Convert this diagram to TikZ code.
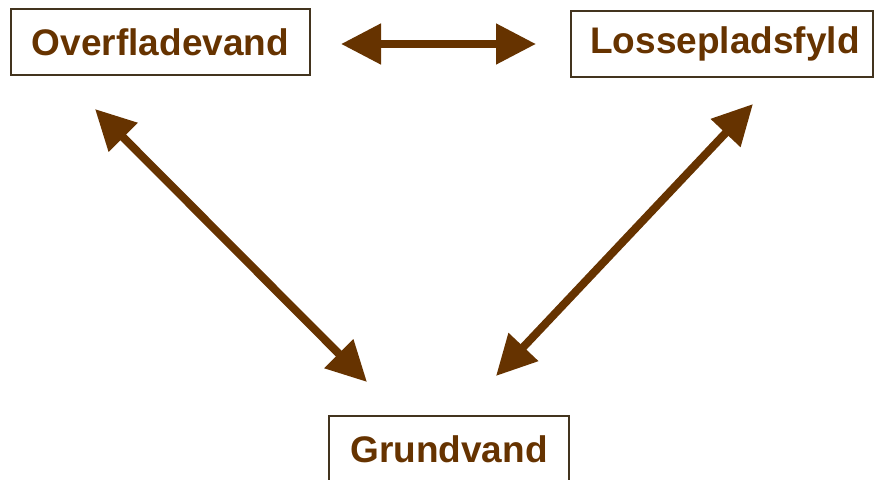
\documentclass[tikz,border=0pt]{standalone}
\usepackage{fontspec}
\setmainfont{Liberation Sans}
\usetikzlibrary{arrows.meta}
\definecolor{brn}{HTML}{663300}
\definecolor{bord}{HTML}{43341E}
\tikzset{
  box/.style={draw=bord, line width=2pt, fill=white, text=brn, font=\fontsize{37}{41}\selectfont\bfseries, inner sep=0pt, anchor=center},
  link/.style={draw=brn, line width=8pt, {Triangle[length=40pt,width=39pt]}-{Triangle[length=40pt,width=39pt]}}
}
\begin{document}
\begin{tikzpicture}[x=1pt,y=-1pt]
\useasboundingbox (0,0) rectangle (875,479);
\clip (0,0) rectangle (875,479);
\node[box, minimum width=299pt, minimum height=66pt] (ov) at (160.5,42) {Overfladevand};
\node[box, minimum width=302pt, minimum height=66pt, text width=302pt, align=center] (lo) at (722,44) {\hspace*{6pt}Lossepladsfyld};
\node[box, minimum width=240pt, minimum height=66pt] (gr) at (449,449) {Grundvand};
\coordinate (h1) at (341,44);
\coordinate (h2) at (536,44);
\coordinate (l1) at (95,109);
\coordinate (l2) at (367,382);
\coordinate (r1) at (753,104);
\coordinate (r2) at (496,376);
\draw[link] (h1) -- (h2);
\draw[link] (l1) -- (l2);
\draw[link] (r1) -- (r2);
\end{tikzpicture}
\end{document}
